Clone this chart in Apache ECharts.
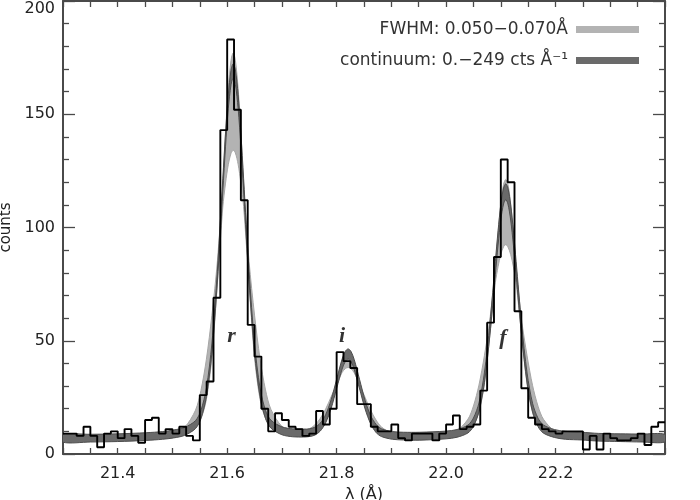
<!DOCTYPE html>
<html>
<head>
<meta charset="utf-8">
<title>O VII triplet</title>
<script src="https://cdn.jsdelivr.net/npm/echarts@6/dist/echarts.min.js"></script>
<style>
html, body { margin: 0; padding: 0; background: #fff; }
#chart { width: 700px; height: 500px; }
</style>
</head>
<body>
<div id="chart"></div>
<script>
// Histogram: bins of 0.0125 A starting at 21.3 A
var binStart = 21.3;
var binWidth = 0.0125;
var binCounts = [9, 9, 8, 12, 8, 3, 9, 10, 7, 11, 8, 5, 15, 16, 9, 11, 9, 12, 8, 6,
    26, 32, 69, 143, 183, 152, 112, 57, 43, 20, 10, 18, 15, 12, 11, 8, 9, 19, 13, 20,
    45, 41, 38, 22, 22, 12, 10, 10, 13, 7, 6, 9, 9, 9, 6, 9, 13, 17, 11, 12,
    13, 28, 58, 87, 130, 120, 63, 29, 16, 13, 11, 10, 9, 10, 10, 10, 2, 8, 2, 9,
    7, 6, 6, 7, 9, 4, 12, 14];

// Model envelopes (wavelength, lower, upper)
var modelWave = [21.300, 21.350, 21.400, 21.452, 21.482, 21.502, 21.522, 21.542, 21.552, 21.562,
    21.572, 21.582, 21.592, 21.597, 21.602, 21.607, 21.611, 21.615, 21.620, 21.625,
    21.630, 21.640, 21.650, 21.660, 21.670, 21.680, 21.700, 21.720, 21.740, 21.750,
    21.760, 21.770, 21.780, 21.790, 21.800, 21.810, 21.816, 21.821, 21.826, 21.832,
    21.842, 21.852, 21.862, 21.872, 21.882, 21.902, 21.922, 21.952, 22.000, 22.020,
    22.040, 22.050, 22.060, 22.070, 22.080, 22.090, 22.095, 22.100, 22.105, 22.109,
    22.113, 22.118, 22.123, 22.128, 22.138, 22.148, 22.158, 22.168, 22.178, 22.198,
    22.218, 22.248, 22.278, 22.318, 22.358, 22.400];
var fwhmLo = [6.5, 6.6, 6.9, 7.3, 7.8, 8.4, 9.5, 11.9, 15.5, 24.1,
    42.5, 74.9, 109.0, 119.6, 127.7, 132.7, 134.1, 132.9, 127.9, 119.7,
    109.3, 75.0, 42.5, 24.2, 15.7, 12.1, 9.8, 8.9, 8.7, 8.9,
    9.4, 10.8, 14.3, 20.9, 30.3, 36.0, 37.7, 38.2, 37.7, 35.9,
    30.2, 20.6, 14.0, 10.4, 8.7, 7.8, 7.5, 7.5, 8.0, 8.6,
    10.3, 12.7, 18.4, 30.8, 52.6, 75.6, 82.7, 88.2, 91.5, 92.4,
    91.4, 88.1, 82.6, 75.5, 52.5, 30.7, 18.3, 12.6, 10.2, 8.6,
    7.9, 7.5, 7.1, 6.9, 6.7, 6.6];
var fwhmHi = [6.7, 6.8, 7.2, 7.8, 8.5, 9.4, 11.7, 19.3, 28.0, 41.8,
    61.1, 84.8, 119.2, 141.9, 161.1, 173.7, 177.1, 173.8, 161.3, 142.0,
    119.3, 85.0, 61.3, 42.0, 28.3, 19.7, 12.2, 10.2, 10.4, 11.1,
    12.8, 15.7, 19.9, 25.3, 31.2, 40.2, 44.2, 45.3, 44.2, 40.1,
    30.9, 25.0, 19.4, 15.0, 11.9, 9.0, 8.2, 8.1, 8.8, 10.3,
    15.4, 21.2, 30.4, 43.4, 59.3, 82.4, 97.6, 110.5, 119.0, 121.2,
    119.0, 110.5, 97.5, 82.3, 59.2, 43.3, 30.3, 21.1, 15.3, 10.2,
    8.7, 8.1, 7.5, 7.1, 6.9, 6.8];
var contLo = [5.2, 5.3, 5.5, 6.0, 6.5, 7.1, 8.2, 11.2, 15.6, 25.3,
    44.5, 75.9, 116.0, 135.9, 152.4, 163.0, 165.9, 163.2, 152.6, 136.0,
    116.1, 76.0, 44.6, 25.4, 15.7, 11.4, 8.5, 7.6, 7.5, 7.7,
    8.3, 10.1, 13.8, 20.2, 28.9, 37.5, 40.9, 41.9, 40.9, 37.4,
    28.7, 19.9, 13.4, 9.5, 7.7, 6.5, 6.2, 6.1, 6.7, 7.4,
    9.3, 12.2, 18.7, 31.5, 52.4, 79.1, 92.3, 103.4, 110.4, 112.3,
    110.4, 103.3, 92.2, 79.0, 52.3, 31.4, 18.6, 12.1, 9.2, 7.3,
    6.5, 6.2, 5.7, 5.5, 5.3, 5.3];
var contHi = [8.6, 8.7, 8.9, 9.4, 9.9, 10.6, 11.7, 14.7, 19.2, 29.1,
    48.6, 80.6, 121.5, 141.7, 158.5, 169.4, 172.3, 169.6, 158.7, 141.8,
    121.6, 80.7, 48.7, 29.2, 19.3, 14.9, 12.0, 11.1, 11.0, 11.1,
    11.8, 13.6, 17.4, 24.0, 33.0, 41.9, 45.4, 46.4, 45.4, 41.8,
    32.8, 23.7, 17.0, 13.1, 11.1, 9.9, 9.6, 9.6, 10.1, 10.8,
    12.8, 15.9, 22.5, 35.8, 57.4, 85.0, 98.6, 110.1, 117.4, 119.3,
    117.4, 110.0, 98.5, 84.9, 57.3, 35.7, 22.4, 15.8, 12.8, 10.8,
    10.0, 9.6, 9.1, 8.9, 8.8, 8.7];

// Line labels
var lineNames = ['r', 'i', 'f'];
var lineLabelWave = [21.608, 21.810, 22.104];
var lineLabelCounts = [52, 52, 51];

var xTickLabels = [21.4, 21.6, 21.8, 22.0, 22.2];
var legendNames = ['FWHM: 0.050\u22120.070\u00c5', 'continuum: 0.\u2212249 cts \u00c5\u207b\u00b9'];

document.addEventListener('DOMContentLoaded', function () {
    var chart = echarts.init(document.getElementById('chart'));
    var axisColor = '#4a4a4a';
    var font = 'DejaVu Sans';

    var histData = [];
    for (var k = 0; k < binCounts.length; k++) {
        histData.push([binStart + k * binWidth, binCounts[k]]);
    }
    histData.push([binStart + binCounts.length * binWidth, binCounts[binCounts.length - 1]]);

    var labelData = [];
    for (var n = 0; n < lineNames.length; n++) {
        labelData.push({ name: lineNames[n], value: [lineLabelWave[n], lineLabelCounts[n]] });
    }

    // filled band between two envelopes
    function bandSeries(name, lo, hi, fill, edge) {
        return {
            name: name,
            type: 'custom',
            coordinateSystem: 'cartesian2d',
            clip: true,
            silent: true,
            itemStyle: { color: fill },
            data: [[modelWave[0], lo[0]]],
            renderItem: function (params, api) {
                var pts = [];
                for (var i = 0; i < modelWave.length; i++) {
                    pts.push(api.coord([modelWave[i], hi[i]]));
                }
                for (var j = modelWave.length - 1; j >= 0; j--) {
                    pts.push(api.coord([modelWave[j], lo[j]]));
                }
                return {
                    type: 'polygon',
                    shape: { points: pts, smooth: 0.3 },
                    style: { fill: fill, stroke: edge, lineWidth: 1 }
                };
            }
        };
    }

    function xAxisDef(pos) {
        return {
            type: 'value', position: pos, min: 21.3, max: 22.4, interval: 0.05,
            axisLine: { show: true, onZero: false, lineStyle: { color: axisColor, width: 2 } },
            axisTick: { show: true, inside: true, length: 6, lineStyle: { color: axisColor, width: 1.3 } },
            axisLabel: {
                show: pos === 'bottom', margin: 12, color: '#222', fontSize: 16, fontFamily: font,
                formatter: function (v) {
                    for (var t = 0; t < xTickLabels.length; t++) {
                        if (Math.abs(v - xTickLabels[t]) < 1e-6) return xTickLabels[t].toFixed(1);
                    }
                    return '';
                }
            },
            splitLine: { show: false }
        };
    }

    function yAxisDef(pos) {
        return {
            type: 'value', position: pos, min: 0, max: 200, interval: 50,
            axisLine: { show: true, onZero: false, lineStyle: { color: axisColor, width: 2 } },
            axisTick: { show: true, inside: true, length: 12, lineStyle: { color: axisColor, width: 1.3 } },
            minorTick: { show: true, splitNumber: 5, length: 6, lineStyle: { color: axisColor, width: 1.3 } },
            axisLabel: { show: pos === 'left', margin: 8, color: '#222', fontSize: 16, fontFamily: font, verticalAlignMaxLabel: 'top' },
            splitLine: { show: false }
        };
    }

    var xBottom = xAxisDef('bottom');
    xBottom.name = '\u03bb (\u00c5)';
    xBottom.nameLocation = 'middle';
    xBottom.nameGap = 30;
    xBottom.nameTextStyle = { color: '#222', fontSize: 16, fontFamily: font };

    var yLeft = yAxisDef('left');
    yLeft.name = 'counts';
    yLeft.nameLocation = 'middle';
    yLeft.nameGap = 44;
    yLeft.nameRotate = 90;
    yLeft.nameTextStyle = { color: '#222', fontSize: 15, fontFamily: font };

    var option = {
        animation: false,
        backgroundColor: '#fff',
        grid: { left: 63, right: 35, top: 1, bottom: 46, outerBoundsMode: 'none', containLabel: false },
        legend: {
            orient: 'vertical', right: 56, top: 16, align: 'right',
            icon: 'rect', itemWidth: 63, itemHeight: 7, itemGap: 14,
            selectedMode: false,
            itemStyle: { borderWidth: 0 },
            textStyle: { color: '#333', fontSize: 17, fontFamily: font, padding: [0, 3, 0, 0] },
            data: legendNames
        },
        xAxis: [xBottom, xAxisDef('top')],
        yAxis: [yLeft, yAxisDef('right')],
        series: [
            bandSeries(legendNames[0], fwhmLo, fwhmHi, '#b3b3b3', '#a6a6a6'),
            bandSeries(legendNames[1], contLo, contHi, '#6a6a6a', '#4d4d4d'),
            {
                name: 'data', type: 'line', step: 'end', data: histData,
                showSymbol: false, silent: true,
                lineStyle: { color: '#000', width: 1.9 }
            },
            {
                name: 'lines', type: 'scatter', data: labelData, silent: true,
                symbolSize: 1, itemStyle: { color: 'rgba(0,0,0,0)' },
                label: {
                    show: true, position: 'inside', formatter: '{b}', color: '#000',
                    fontFamily: 'Liberation Serif', fontStyle: 'italic', fontWeight: 'bold', fontSize: 22
                }
            }
        ]
    };
    chart.setOption(option);

    window.addEventListener('resize', function () {
        chart.resize();
    });
});
</script>
</body>
</html>
